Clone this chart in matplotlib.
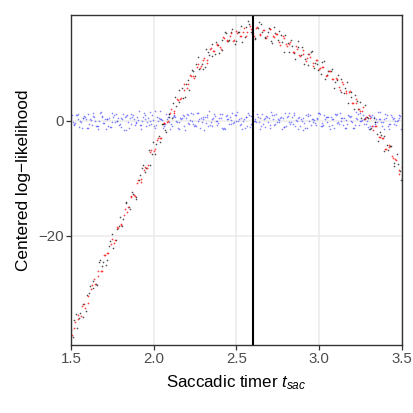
import matplotlib
matplotlib.use("Agg")
import matplotlib.pyplot as plt

plt.rcParams["font.family"] = ["Liberation Sans", "DejaVu Sans"]
plt.rcParams["mathtext.fontset"] = "custom"
plt.rcParams["mathtext.it"] = "Liberation Sans:italic"
plt.rcParams["mathtext.rm"] = "Liberation Sans"

# saccadic timer grids
t_a = [1.50, 1.52, 1.54, 1.56, 1.58, 1.60, 1.62, 1.64, 1.66, 1.68,
       1.70, 1.72, 1.74, 1.76, 1.78, 1.80, 1.82, 1.84, 1.86, 1.88,
       1.90, 1.92, 1.94, 1.96, 1.98, 2.00, 2.02, 2.04, 2.06, 2.08,
       2.10, 2.12, 2.14, 2.16, 2.18, 2.20, 2.22, 2.24, 2.26, 2.28,
       2.30, 2.32, 2.34, 2.36, 2.38, 2.40, 2.42, 2.44, 2.46, 2.48,
       2.50, 2.52, 2.54, 2.56, 2.58, 2.60, 2.62, 2.64, 2.66, 2.68,
       2.70, 2.72, 2.74, 2.76, 2.78, 2.80, 2.82, 2.84, 2.86, 2.88,
       2.90, 2.92, 2.94, 2.96, 2.98, 3.00, 3.02, 3.04, 3.06, 3.08,
       3.10, 3.12, 3.14, 3.16, 3.18, 3.20, 3.22, 3.24, 3.26, 3.28,
       3.30, 3.32, 3.34, 3.36, 3.38, 3.40, 3.42, 3.44, 3.46, 3.48,
       3.50]
t_b = [1.51, 1.53, 1.55, 1.57, 1.59, 1.61, 1.63, 1.65, 1.67, 1.69,
       1.71, 1.73, 1.75, 1.77, 1.79, 1.81, 1.83, 1.85, 1.87, 1.89,
       1.91, 1.93, 1.95, 1.97, 1.99, 2.01, 2.03, 2.05, 2.07, 2.09,
       2.11, 2.13, 2.15, 2.17, 2.19, 2.21, 2.23, 2.25, 2.27, 2.29,
       2.31, 2.33, 2.35, 2.37, 2.39, 2.41, 2.43, 2.45, 2.47, 2.49,
       2.51, 2.53, 2.55, 2.57, 2.59, 2.61, 2.63, 2.65, 2.67, 2.69,
       2.71, 2.73, 2.75, 2.77, 2.79, 2.81, 2.83, 2.85, 2.87, 2.89,
       2.91, 2.93, 2.95, 2.97, 2.99, 3.01, 3.03, 3.05, 3.07, 3.09,
       3.11, 3.13, 3.15, 3.17, 3.19, 3.21, 3.23, 3.25, 3.27, 3.29,
       3.31, 3.33, 3.35, 3.37, 3.39, 3.41, 3.43, 3.45, 3.47, 3.49]
t_c = [1.505, 1.525, 1.545, 1.565, 1.585, 1.605, 1.625, 1.645, 1.665, 1.685,
       1.705, 1.725, 1.745, 1.765, 1.785, 1.805, 1.825, 1.845, 1.865, 1.885,
       1.905, 1.925, 1.945, 1.965, 1.985, 2.005, 2.025, 2.045, 2.065, 2.085,
       2.105, 2.125, 2.145, 2.165, 2.185, 2.205, 2.225, 2.245, 2.265, 2.285,
       2.305, 2.325, 2.345, 2.365, 2.385, 2.405, 2.425, 2.445, 2.465, 2.485,
       2.505, 2.525, 2.545, 2.565, 2.585, 2.605, 2.625, 2.645, 2.665, 2.685,
       2.705, 2.725, 2.745, 2.765, 2.785, 2.805, 2.825, 2.845, 2.865, 2.885,
       2.905, 2.925, 2.945, 2.965, 2.985, 3.005, 3.025, 3.045, 3.065, 3.085,
       3.105, 3.125, 3.145, 3.165, 3.185, 3.205, 3.225, 3.245, 3.265, 3.285,
       3.305, 3.325, 3.345, 3.365, 3.385, 3.405, 3.425, 3.445, 3.465, 3.485]
t_d = [1.515, 1.535, 1.555, 1.575, 1.595, 1.615, 1.635, 1.655, 1.675, 1.695,
       1.715, 1.735, 1.755, 1.775, 1.795, 1.815, 1.835, 1.855, 1.875, 1.895,
       1.915, 1.935, 1.955, 1.975, 1.995, 2.015, 2.035, 2.055, 2.075, 2.095,
       2.115, 2.135, 2.155, 2.175, 2.195, 2.215, 2.235, 2.255, 2.275, 2.295,
       2.315, 2.335, 2.355, 2.375, 2.395, 2.415, 2.435, 2.455, 2.475, 2.495,
       2.515, 2.535, 2.555, 2.575, 2.595, 2.615, 2.635, 2.655, 2.675, 2.695,
       2.715, 2.735, 2.755, 2.775, 2.795, 2.815, 2.835, 2.855, 2.875, 2.895,
       2.915, 2.935, 2.955, 2.975, 2.995, 3.015, 3.035, 3.055, 3.075, 3.095,
       3.115, 3.135, 3.155, 3.175, 3.195, 3.215, 3.235, 3.255, 3.275, 3.295,
       3.315, 3.335, 3.355, 3.375, 3.395, 3.415, 3.435, 3.455, 3.475, 3.495]

# red series (on t_a and t_c)
ll_red = [-36.5, -36.1, -33.8, -34.0, -31.9, -31.8, -29.2, -27.6, -27.1, -26.1,
          -23.4, -23.1, -21.4, -21.2, -18.5, -18.2, -16.4, -15.9, -13.1, -12.9,
          -10.8, -10.6, -8.5, -8.3, -5.5, -5.2, -3.4, -3.0, -0.4, -0.2,
          1.3, 1.3, 3.8, 3.8, 5.4, 5.6, 8.0, 7.8, 9.4, 9.1,
          10.6, 10.1, 12.4, 12.1, 13.2, 12.8, 14.6, 14.0, 14.7, 13.9,
          15.6, 14.8, 15.4, 14.8, 16.4, 15.3, 16.1, 14.9, 15.7, 14.4,
          15.9, 14.7, 15.0, 13.7, 14.7, 13.3, 13.3, 11.9, 12.9, 11.5,
          11.6, 10.4, 11.6, 10.1, 10.5, 9.0, 9.3, 7.7, 8.7, 7.3,
          7.4, 5.9, 6.8, 5.2, 4.9, 3.1, 3.7, 2.0, 1.7, 0.2,
          1.0, -0.9, -1.0, -2.9, -3.0, -5.0, -4.3, -6.2, -6.6, -8.5,
          -8.1]
ll_red2 = [-37.3, -35.1, -34.5, -32.2, -32.6, -30.5, -28.6, -28.4, -26.1, -26.2,
           -23.4, -23.0, -20.6, -20.8, -18.6, -18.0, -15.3, -15.0, -13.2, -13.1,
           -10.3, -10.1, -8.1, -7.7, -5.1, -4.9, -3.0, -3.1, -0.4, -0.1,
           2.1, 1.7, 3.6, 4.0, 6.4, 6.4, 7.8, 7.5, 9.8, 9.5,
           10.9, 10.6, 12.6, 12.2, 13.4, 12.5, 14.4, 13.9, 15.3, 14.1,
           15.2, 14.7, 16.2, 15.4, 16.0, 14.8, 16.3, 15.1, 15.7, 14.7,
           15.9, 14.6, 15.0, 13.2, 14.3, 13.0, 13.7, 11.9, 12.4, 11.3,
           12.3, 10.9, 11.1, 9.5, 10.6, 9.1, 9.3, 7.9, 8.7, 7.2,
           7.3, 5.4, 6.4, 4.8, 5.2, 3.0, 3.1, 1.7, 2.3, 0.6,
           0.4, -1.6, -1.0, -2.9, -3.1, -4.9, -4.5, -6.5, -6.8, -9.2]

# black series (on t_b and t_d)
ll_black = [-37.6, -33.7, -34.4, -31.9, -33.1, -30.0, -27.9, -28.4, -24.6, -25.2,
            -25.1, -21.8, -19.8, -20.8, -18.4, -18.4, -14.4, -15.0, -12.4, -13.6,
            -10.4, -8.3, -8.9, -5.1, -5.8, -5.8, -2.6, -0.6, -1.7, 0.6,
            0.4, 4.2, 3.3, 5.7, 4.2, 7.1, 8.8, 7.7, 11.0, 9.9,
            9.3, 12.0, 13.3, 11.6, 13.2, 12.3, 15.4, 13.9, 15.5, 13.3,
            15.4, 16.4, 14.6, 17.3, 15.4, 14.2, 16.2, 16.8, 14.4, 15.4,
            13.9, 16.3, 14.0, 14.9, 12.0, 13.5, 14.0, 11.7, 13.8, 11.5,
            9.9, 11.6, 11.9, 9.2, 9.9, 8.2, 10.4, 7.9, 8.7, 5.7,
            7.0, 7.3, 4.8, 6.7, 4.1, 2.1, 3.4, 3.3, 0.3, 0.7,
            -1.4, 0.5, -2.3, -1.9, -5.3, -4.3, -4.4, -7.3, -5.8, -8.7]
ll_black2 = [-34.7, -36.0, -33.5, -34.1, -30.4, -28.7, -29.1, -28.6, -24.3, -24.6,
             -24.2, -21.0, -22.2, -18.9, -16.8, -17.1, -14.1, -15.3, -12.7, -13.3,
             -9.5, -7.8, -8.2, -7.8, -3.7, -4.1, -3.7, -0.6, -1.9, 1.2,
             3.1, 2.6, 5.4, 3.9, 6.3, 5.3, 8.7, 9.9, 9.0, 8.9,
             12.5, 11.5, 11.3, 13.7, 11.7, 14.1, 15.3, 14.0, 16.0, 13.8,
             15.4, 13.6, 16.3, 16.8, 15.1, 14.3, 17.1, 15.5, 14.5, 16.2,
             13.5, 15.2, 15.6, 13.6, 14.9, 12.0, 13.0, 10.7, 12.8, 12.8,
             10.7, 9.6, 12.1, 10.1, 8.8, 10.2, 7.2, 8.7, 8.9, 6.8,
             8.0, 4.9, 5.7, 3.1, 4.9, 4.5, 2.1, 0.5, 2.7, 0.4,
             -1.3, -0.3, -3.6, -2.5, -2.6, -5.1, -4.4, -7.9, -7.6, -10.4]

# blue series (flat around zero)
ll_blue_a = [0.4, -0.7, 1.2, -0.2, 0.8, -1.3, 0.1, 0.6, -0.9, 1.5,
             -0.4, 0.3, -1.1, 0.9, -0.1, 0.5, -1.6, 1.0, -0.5, 0.2,
             0.7, -0.8, 1.3, -0.3, 0.0, -1.0, 0.6, 1.7, -0.6, 0.3,
             -1.4, 0.8, -0.2, 0.4, -0.9, 1.1, 0.1, -0.5, 1.4, -1.2,
             0.2, 0.9, -0.7, 0.5, -0.1, 1.2, -1.5, 0.3, 0.7, -0.4,
             1.0, -0.8, 0.0, 0.6, -1.1, 1.6, -0.3, 0.4, -0.6, 0.8,
             -1.3, 0.2, 1.1, -0.2, 0.5, -0.9, 1.3, -0.5, 0.1, 0.7,
             -1.7, 0.9, -0.1, 0.3, -0.8, 1.4, -0.4, 0.6, -1.0, 0.2,
             1.0, -0.6, 0.4, -1.2, 0.8, -0.3, 1.5, -0.7, 0.1, 0.5,
             -1.4, 0.9, -0.2, 0.3, -0.9, 1.2, -0.5, 0.7, -0.1, 0.4,
             -0.8]
ll_blue_b = [-0.3, 0.9, -1.1, 0.5, 0.2, -0.6, 1.3, -0.9, 0.0, 0.7,
             -1.5, 0.4, -0.2, 1.1, -0.7, 0.3, 0.8, -1.2, 0.6, -0.4,
             1.6, -0.1, 0.2, -0.8, 1.0, -1.3, 0.5, 0.1, -0.5, 1.2,
             -0.9, 0.7, -0.3, 0.4, -1.6, 0.9, 0.0, -0.7, 1.4, -0.2,
             0.6, -1.0, 0.3, 0.8, -0.4, 1.1, -1.4, 0.2, -0.6, 0.9,
             -0.1, 0.5, -1.2, 1.3, -0.5, 0.0, 0.7, -0.9, 0.4, -0.3,
             1.5, -0.8, 0.2, 0.6, -1.1, 0.8, -0.2, 1.0, -1.5, 0.3,
             -0.4, 1.2, -0.7, 0.1, 0.5, -1.0, 0.9, -0.3, 0.6, -1.3,
             1.1, -0.1, 0.4, -0.6, 0.8, -1.2, 0.2, 1.4, -0.5, 0.0,
             -0.9, 0.7, -0.2, 0.3, -1.4, 1.0, -0.6, 0.5, -0.1, 0.8]
ll_blue_c = [0.9, -0.4, 0.2, -1.2, 0.6, 1.1, -0.7, 0.0, -1.5, 0.8,
             0.3, -0.9, 1.4, -0.2, 0.5, -1.1, 0.7, -0.3, 1.2, -0.8,
             0.1, -1.4, 0.9, 0.4, -0.6, 1.6, -0.1, 0.3, -1.0, 0.6,
             -0.5, 1.0, -1.3, 0.2, 0.8, -0.4, 1.3, -0.9, 0.0, 0.5,
             -1.6, 0.7, -0.2, 1.1, -0.7, 0.4, -1.2, 0.9, 0.1, -0.3,
             1.5, -0.6, 0.2, -1.0, 0.8, -0.1, 1.2, -1.4, 0.3, 0.6,
             -0.8, 1.0, -0.3, 0.4, -1.1, 0.7, -0.5, 1.4, 0.0, -0.9,
             0.5, -1.3, 0.9, -0.2, 0.3, 1.1, -0.7, 0.6, -1.5, 0.2,
             -0.4, 1.3, -0.8, 0.1, 0.7, -1.2, 0.4, -0.1, 1.0, -0.6,
             0.8, -1.0, 0.3, 1.5, -0.3, 0.5, -1.4, 0.2, -0.7, 0.9]
ll_blue_d = [-0.6, 1.0, -0.1, 0.5, -1.3, 0.3, 0.8, -0.9, 1.4, -0.4,
             0.2, -1.1, 0.7, 0.0, -0.5, 1.2, -1.6, 0.4, 0.9, -0.2,
             -0.8, 0.6, -1.0, 1.5, 0.1, -0.7, 0.3, -1.3, 1.1, -0.3,
             0.7, -0.1, -1.5, 0.9, 0.4, -0.6, 1.2, -1.0, 0.2, 0.6,
             -0.4, 1.6, -0.9, 0.0, 0.5, -1.2, 0.8, -0.5, 1.3, -0.1,
             0.3, -1.4, 0.6, 1.0, -0.8, 0.2, -0.3, 1.1, -1.1, 0.4,
             0.9, -0.6, 0.1, -1.5, 1.3, -0.2, 0.7, -0.9, 0.5, 0.0,
             -1.2, 0.8, 0.3, -0.4, 1.4, -1.0, 0.2, 0.6, -0.7, 1.1,
             -0.3, 0.5, -1.3, 0.9, 0.0, -0.8, 1.2, -0.1, 0.4, -1.1,
             0.7, -0.5, 1.5, -0.2, 0.3, -0.9, 1.0, -0.6, 0.1, -1.4]

t_true = 2.6

fig = plt.figure(figsize=(4.13, 4.13), dpi=100)
ax = fig.add_axes([0.172, 0.165, 0.801, 0.799])

blue = dict(s=1.4, color="#2020ff", alpha=0.55, linewidths=0)
ax.scatter(t_a, ll_blue_a, **blue)
ax.scatter(t_b, ll_blue_b, **blue)
ax.scatter(t_c, ll_blue_c, **blue)
ax.scatter(t_d, ll_blue_d, **blue)
black = dict(s=1.4, color="black", alpha=0.7, linewidths=0)
ax.scatter(t_b, ll_black, **black)
ax.scatter(t_d, ll_black2, **black)
red = dict(s=1.6, color="#ff0000", alpha=0.75, linewidths=0)
ax.scatter(t_a, ll_red, **red)
ax.scatter(t_c, ll_red2, **red)
ax.axvline(t_true, color="black", lw=1.5)

ax.set_xlim(1.5, 3.5)
ax.set_ylim(-39, 18.4)
ax.set_xticks([1.5, 2.0, 2.5, 3.0, 3.5])
ax.set_xticklabels(["1.5", "2.0", "2.5", "3.0", "3.5"])
ax.set_yticks([-20, 0])

ax.grid(True, color="#EBEBEB", lw=1.1)
ax.set_axisbelow(True)
for s in ax.spines.values():
    s.set_color("#333333")
    s.set_linewidth(1.0)
ax.tick_params(colors="#333333", length=3.5, width=0.9, labelsize=10.8,
               labelcolor="#4D4D4D", pad=2)

ax.set_xlabel("Saccadic timer $t_{sac}$", fontsize=12.2, labelpad=5)
ax.set_ylabel("Centered log\u2212likelihood", fontsize=12.4, labelpad=5)

fig.savefig("out.png", dpi=100)
